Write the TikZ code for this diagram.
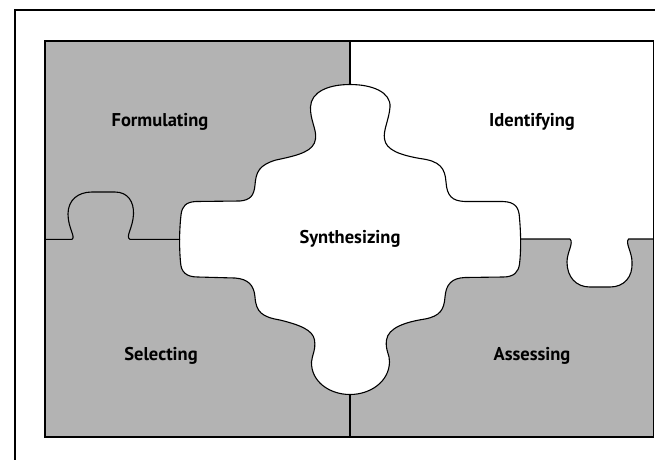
\documentclass[tikz,border=0pt]{standalone}
\usepackage{fontspec}
\setmainfont{PT Sans}
\definecolor{piecegray}{RGB}{179,179,179}
\begin{document}
\begin{tikzpicture}[x=1pt,y=-1pt,
  outline/.style={draw=black,line width=1.1pt,line join=round},
  frame/.style={draw=black,line width=1.5pt},
  lbl/.style={font=\fontsize{18.5}{22}\selectfont\bfseries,text=black,inner sep=0pt}]
\useasboundingbox (0,0) rectangle (655,459);
\clip (0,0) rectangle (655,459);
% outer frame (cropped)
\coordinate (fb) at (15,470);
\coordinate (ft) at (15,10);
\coordinate (fr) at (670,10);
\draw[frame] (fb) -- (ft) -- (fr);
% inner area
\coordinate (ia) at (45,41);
\coordinate (ib) at (653.5,437);
\fill[piecegray] (ia) rectangle (ib);
\fill[white] (350,41) rectangle (653.5,239);
% knob of Identifying piece (white, below the line)
\fill[white] (570,239) .. controls (574,243) and (567,252) .. (567,262)
  .. controls (567,277) and (576,287) .. (590,287) -- (610,287)
  .. controls (624,287) and (633,277) .. (632,262)
  .. controls (632,252) and (625,243) .. (628.5,239) -- cycle;
% central piece
\path[outline,fill=white] (350,84.5)
  .. controls (372,84.5) and (391,92) .. (390,107)
  .. controls (389,120) and (383,130) .. (384.5,139)
  .. controls (386,150) and (400,155) .. (420,158.5)
  .. controls (440,161) and (445,168) .. (446,182)
  .. controls (447,196) and (452,201) .. (465,201.5)
  -- (503,201.5)
  .. controls (515,202) and (519,207) .. (519.5,218)
  .. controls (521,235) and (521,252) .. (519.5,264)
  .. controls (518.5,272) and (514,277) .. (503,277)
  -- (465,277.5)
  .. controls (452,278) and (446,284) .. (445,297)
  .. controls (444,310) and (440,316) .. (425,319)
  .. controls (405,322) and (388,328) .. (386.5,340)
  .. controls (385,350) and (390,355) .. (389.5,362)
  .. controls (389,382) and (370,394.5) .. (350,394.5)
  .. controls (330,394.5) and (311,382) .. (311.5,362)
  .. controls (312,355) and (316,350) .. (314.5,340)
  .. controls (313,330) and (300,325) .. (280,320)
  .. controls (262,317) and (256,312) .. (255,297)
  .. controls (254,285) and (248,279) .. (235,278)
  -- (198,277)
  .. controls (186,277) and (181,272) .. (180.5,262)
  .. controls (179,245) and (179.5,228) .. (181,215)
  .. controls (182,206) and (186,202) .. (196,201.5)
  -- (240,201)
  .. controls (250,200) and (254,196) .. (255,185)
  .. controls (256,172) and (259,165) .. (276,160)
  .. controls (300,155) and (314,151) .. (315.5,139)
  .. controls (317,130) and (310,120) .. (310.5,107)
  .. controls (311,92) and (328,84.5) .. (350,84.5) -- cycle;
% dividers
\draw[outline] (350,41) -- (350,84.5);
\draw[outline] (350,394.5) -- (350,437);
\draw[outline] (45,239.3) -- (72,239.3)
  .. controls (76,237) and (68,228) .. (68,214)
  .. controls (68,200) and (78,192) .. (92,192) -- (115,192)
  .. controls (128,192) and (134,202) .. (133.5,214)
  .. controls (133,228) and (125,237) .. (130,239.3) -- (180.2,239.3);
\draw[outline] (520.5,239) -- (570,239)
  .. controls (574,243) and (567,252) .. (567,262)
  .. controls (567,277) and (576,287) .. (590,287) -- (610,287)
  .. controls (624,287) and (633,277) .. (632,262)
  .. controls (632,252) and (625,243) .. (628.5,239) -- (653.5,239);
\draw[frame] (ia) rectangle (ib);
% labels
\node[lbl] (formulating) at (160,122) {Formulating};
\node[lbl] (identifying) at (532,122) {Identifying};
\node[lbl] (synthesizing) at (350,239) {Synthesizing};
\node[lbl] (selecting) at (161,356) {Selecting};
\node[lbl] (assessing) at (532,356) {Assessing};
\end{tikzpicture}
\end{document}
